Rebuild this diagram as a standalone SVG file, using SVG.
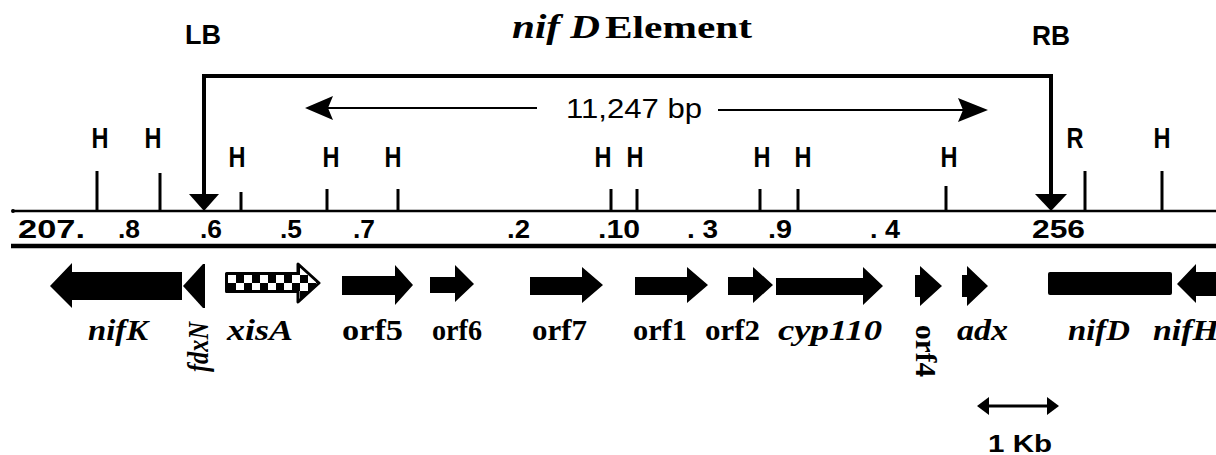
<svg xmlns="http://www.w3.org/2000/svg" width="1216" height="455" viewBox="0 0 1216 455">
<defs>
<style>
.lbl{font-family:"Liberation Sans",Arial,sans-serif;font-weight:bold;fill:#000}
.h{font-size:29px;text-anchor:middle}
.pos{font-size:25px}
.gene{font-family:"Liberation Serif","Times New Roman",serif;font-weight:bold;font-size:29px;fill:#000}
.it{font-style:italic}
.tick{stroke:#000;stroke-width:3}
.arr{fill:#000}
</style>
<pattern id="chk" x="228" y="275" width="16" height="16" patternUnits="userSpaceOnUse">
<rect width="16" height="16" fill="#fff"/>
<rect x="8" y="0" width="8" height="8" fill="#000"/>
<rect x="0" y="8" width="8" height="8" fill="#000"/>
</pattern>
</defs>
<rect width="1216" height="455" fill="#fff"/>

<g id="title">
<text x="512" y="38" font-family="Liberation Serif,serif" font-style="italic" font-weight="bold" font-size="34" textLength="88" lengthAdjust="spacingAndGlyphs">nif D</text>
<text x="605" y="38" font-family="Liberation Serif,serif" font-weight="bold" font-size="32" textLength="147" lengthAdjust="spacingAndGlyphs">Element</text>
</g>

<g id="LB"><text class="lbl" x="185" y="44" font-size="28" textLength="36" lengthAdjust="spacingAndGlyphs">LB</text></g>
<g id="RB"><text class="lbl" x="1032" y="45" font-size="28" textLength="38" lengthAdjust="spacingAndGlyphs">RB</text></g>

<g id="connectors">
<path d="M204,196 V76 H1051 V196" fill="none" stroke="#000" stroke-width="4"/>
<polygon points="189,194 219,194 204,211" class="arr"/>
<polygon points="1035,194 1067,194 1051,211" class="arr"/>
<line x1="325" y1="108" x2="537" y2="108" stroke="#000" stroke-width="2"/>
<polygon points="305,108 333,96 328,108 333,120" class="arr"/>
<line x1="718" y1="110" x2="965" y2="110" stroke="#000" stroke-width="2"/>
<polygon points="988,110 958,98 963,110 958,122" class="arr"/>
<line x1="980" y1="406" x2="1056" y2="406" stroke="#000" stroke-width="3"/>
<polygon points="977,406 989,397 989,415" class="arr"/>
<polygon points="1059,406 1047,397 1047,415" class="arr"/>
</g>

<g id="bp-label"><text x="566" y="118" font-family="Liberation Sans,Arial,sans-serif" font-size="28" textLength="136" lengthAdjust="spacingAndGlyphs">11,247 bp</text></g>

<g id="map-lines">
<line x1="12" y1="211" x2="1216" y2="211" stroke="#000" stroke-width="2.5"/>
<circle cx="13" cy="211" r="2"/>
<line x1="11" y1="246" x2="1216" y2="246" stroke="#000" stroke-width="4.5"/>
</g>

<g id="sites">
<line class="tick" x1="97" y1="171" x2="97" y2="211"/>
<line class="tick" x1="160" y1="173" x2="160" y2="211"/>
<line class="tick" x1="241" y1="192" x2="241" y2="211"/>
<line class="tick" x1="327" y1="189" x2="327" y2="211"/>
<line class="tick" x1="398" y1="189" x2="398" y2="211"/>
<line class="tick" x1="611" y1="189" x2="611" y2="211"/>
<line class="tick" x1="637" y1="189" x2="637" y2="211"/>
<line class="tick" x1="760" y1="189" x2="760" y2="211"/>
<line class="tick" x1="798" y1="189" x2="798" y2="211"/>
<line class="tick" x1="946" y1="186" x2="946" y2="211"/>
<line class="tick" x1="1085" y1="171" x2="1085" y2="211"/>
<line class="tick" x1="1162" y1="171" x2="1162" y2="211"/>
<text class="lbl h" x="100" y="148" textLength="17" lengthAdjust="spacingAndGlyphs">H</text>
<text class="lbl h" x="153" y="148" textLength="17" lengthAdjust="spacingAndGlyphs">H</text>
<text class="lbl h" x="237" y="167" textLength="17" lengthAdjust="spacingAndGlyphs">H</text>
<text class="lbl h" x="331" y="167" textLength="17" lengthAdjust="spacingAndGlyphs">H</text>
<text class="lbl h" x="393" y="167" textLength="17" lengthAdjust="spacingAndGlyphs">H</text>
<text class="lbl h" x="603" y="167" textLength="17" lengthAdjust="spacingAndGlyphs">H</text>
<text class="lbl h" x="635" y="167" textLength="17" lengthAdjust="spacingAndGlyphs">H</text>
<text class="lbl h" x="762" y="167" textLength="17" lengthAdjust="spacingAndGlyphs">H</text>
<text class="lbl h" x="803" y="167" textLength="17" lengthAdjust="spacingAndGlyphs">H</text>
<text class="lbl h" x="949" y="167" textLength="17" lengthAdjust="spacingAndGlyphs">H</text>
<text class="lbl h" x="1075" y="148" textLength="17" lengthAdjust="spacingAndGlyphs">R</text>
<text class="lbl h" x="1162" y="148" textLength="17" lengthAdjust="spacingAndGlyphs">H</text>
</g>

<g id="positions">
<text class="lbl pos" x="18" y="238" textLength="67" lengthAdjust="spacingAndGlyphs">207.</text>
<text class="lbl pos" x="118" y="238" textLength="22" lengthAdjust="spacingAndGlyphs">.8</text>
<text class="lbl pos" x="200" y="238" textLength="22" lengthAdjust="spacingAndGlyphs">.6</text>
<text class="lbl pos" x="280" y="238" textLength="22" lengthAdjust="spacingAndGlyphs">.5</text>
<text class="lbl pos" x="353" y="238" textLength="22" lengthAdjust="spacingAndGlyphs">.7</text>
<text class="lbl pos" x="507" y="238" textLength="23" lengthAdjust="spacingAndGlyphs">.2</text>
<text class="lbl pos" x="598" y="238" textLength="42" lengthAdjust="spacingAndGlyphs">.10</text>
<text class="lbl pos" x="687" y="238" textLength="31" lengthAdjust="spacingAndGlyphs">. 3</text>
<text class="lbl pos" x="768" y="238" textLength="24" lengthAdjust="spacingAndGlyphs">.9</text>
<text class="lbl pos" x="870" y="238" textLength="30" lengthAdjust="spacingAndGlyphs">. 4</text>
<text class="lbl pos" x="1032" y="238" textLength="53" lengthAdjust="spacingAndGlyphs">256</text>
</g>

<g id="nifK">
<polygon class="arr" points="50,286 72,263 72,272 182,272 182,300 72,300 72,308"/>
<text class="gene it" x="88" y="340" textLength="60" lengthAdjust="spacingAndGlyphs">nifK</text>
</g>
<g id="fdxN">
<polygon class="arr" points="183,286 203,264 205,264 205,308 203,308"/>
<text class="gene it" font-size="24" transform="translate(208,347) rotate(-90)" text-anchor="middle" textLength="50" lengthAdjust="spacingAndGlyphs">fdxN</text>
</g>
<g id="xisA">
<polygon points="226.5,273.5 298,273.5 298,264 319,283 298,302 298,291.5 226.5,291.5" fill="url(#chk)" stroke="#000" stroke-width="3" stroke-linejoin="round"/>
<text class="gene it" x="227" y="340" textLength="66" lengthAdjust="spacingAndGlyphs">xisA</text>
</g>
<g id="orf5">
<polygon class="arr" points="342,276 395,276 395,265 413,285 395,305 395,295 342,295"/>
<text class="gene" x="342" y="340" textLength="61" lengthAdjust="spacingAndGlyphs">orf5</text>
</g>
<g id="orf6">
<polygon class="arr" points="430,277 455,277 455,265 474,284 455,302 455,293 430,293"/>
<text class="gene" x="432" y="340" textLength="50" lengthAdjust="spacingAndGlyphs">orf6</text>
</g>
<g id="orf7">
<polygon class="arr" points="530,277 582,277 582,267 603,285 582,303 582,295 530,295"/>
<text class="gene" x="532" y="340" textLength="55" lengthAdjust="spacingAndGlyphs">orf7</text>
</g>
<g id="orf1">
<polygon class="arr" points="635,277 687,277 687,267 708,285 687,303 687,295 635,295"/>
<text class="gene" x="633" y="340" textLength="54" lengthAdjust="spacingAndGlyphs">orf1</text>
</g>
<g id="orf2">
<polygon class="arr" points="728,277 753,277 753,267 773,285 753,303 753,295 728,295"/>
<text class="gene" x="705" y="340" textLength="55" lengthAdjust="spacingAndGlyphs">orf2</text>
</g>
<g id="cyp110">
<polygon class="arr" points="776,278 863,278 863,267 883,286 863,305 863,295 776,295"/>
<text class="gene it" x="778" y="340" textLength="104" lengthAdjust="spacingAndGlyphs">cyp110</text>
</g>
<g id="orf4">
<polygon class="arr" points="915,275 920,275 920,266 942,286 920,306 920,297 915,297"/>
<text class="gene" font-size="20" transform="translate(916,351) rotate(90)" text-anchor="middle" textLength="52" lengthAdjust="spacingAndGlyphs">orf4</text>
</g>
<g id="adx">
<polygon class="arr" points="962,275 967,275 967,266 988,286 967,306 967,297 962,297"/>
<text class="gene it" x="957" y="340" textLength="51" lengthAdjust="spacingAndGlyphs">adx</text>
</g>
<g id="nifD">
<rect class="arr" x="1048" y="272" width="124" height="23" rx="2"/>
<text class="gene it" x="1068" y="340" textLength="62" lengthAdjust="spacingAndGlyphs">nifD</text>
</g>
<g id="nifH">
<polygon class="arr" points="1177,284 1196,264 1196,272 1216,272 1216,296 1196,296 1196,303"/>
<text class="gene it" x="1153" y="340" textLength="66" lengthAdjust="spacingAndGlyphs">nifH</text>
</g>

<g id="scale">
<text class="lbl" x="988" y="452" font-size="23" textLength="64" lengthAdjust="spacingAndGlyphs">1 Kb</text>
</g>
</svg>
